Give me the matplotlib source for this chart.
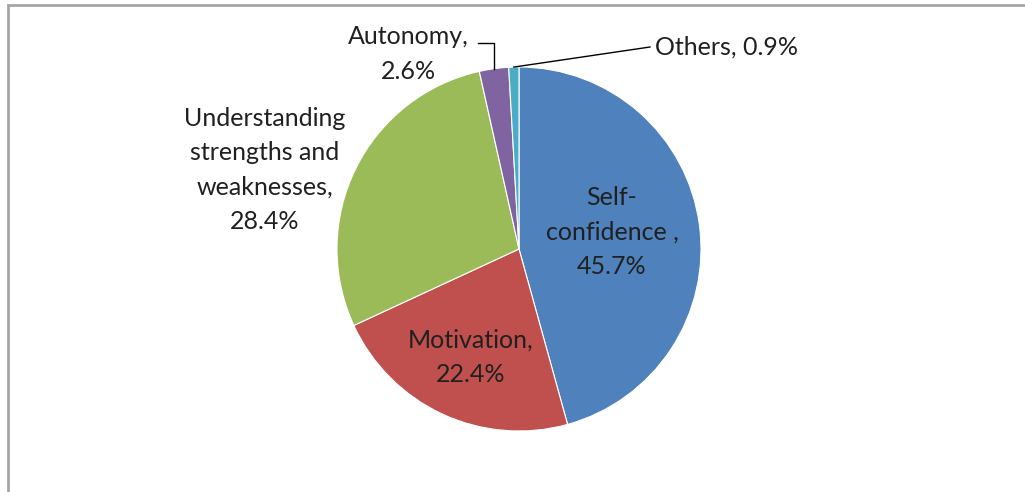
import numpy as np
import matplotlib.pyplot as plt
from matplotlib.patches import Rectangle

plt.rcParams['font.family'] = ['Lato', 'DejaVu Sans']

# data
labels = ['Self-\nconfidence ,', 'Motivation,', 'Understanding\nstrengths and\nweaknesses,',
          'Autonomy,', 'Others,']
values = [45.7, 22.4, 28.4, 2.6, 0.9]
colors = ['#4F81BD', '#C0504D', '#9BBB59', '#8064A2', '#4BACC6']

W, H = 1025, 492
fig = plt.figure(figsize=(W / 100, H / 100), dpi=100)
ax = fig.add_axes([0, 0, 1, 1])

cx, cy, r = 519, H - 249, 182
ax.pie(values, colors=colors, startangle=90, counterclock=False,
       center=(cx, cy), radius=r, frame=True,
       wedgeprops=dict(edgecolor='white', linewidth=0.8))
ax.set_xlim(0, W)
ax.set_ylim(0, H)
ax.set_aspect('equal')
ax.axis('off')

# chart frame (only top/left edges show)
ax.add_patch(Rectangle((8, -20), W + 20, H - 5 + 20, fill=False,
                       edgecolor='#a6a6a6', linewidth=2))

def edge_point(i):
    start = sum(values[:i])
    mid = (start + values[i] / 2) / sum(values) * 360
    a = np.radians(mid)
    return cx + r * np.sin(a), cy + r * np.cos(a)

fs = 18
txt = dict(fontsize=fs, color='#202020', ha='center', va='center', linespacing=1.58)

# inside labels
ax.text(612, H - 232, f'{labels[0]}\n{values[0]}%', **txt)
ax.text(471, H - 357, f'{labels[1]}\n{values[1]}%', **txt)
# outside labels
ax.text(265, H - 170, f'{labels[2]}\n{values[2]}%', **txt)
ax.text(408, H - 54, f'{labels[3]}\n{values[3]}%', **txt)
ax.text(655, H - 47, f'{labels[4]} {values[4]}%', fontsize=fs, color='#202020',
        ha='left', va='center')

# leader lines
px, py = edge_point(3)
ax.plot([478, px, px], [H - 43, H - 43, py], color='black', linewidth=1)
px, py = edge_point(4)
ax.plot([px, 650], [py, H - 47], color='black', linewidth=1)

fig.savefig('out.png', dpi=100)
